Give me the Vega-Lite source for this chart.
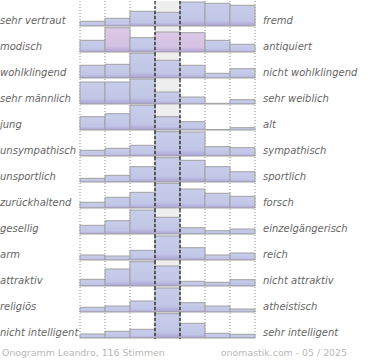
{
  "$schema": "https://vega.github.io/schema/vega-lite/v6.json",
  "padding": 0,
  "autosize": {"type": "pad"},
  "config": {"view": {"stroke": null}, "font": "DejaVu Sans"},
  "datasets": {
    "bars": [
      {"idx": 1, "col": 1, "v": 4.7}, {"idx": 1, "col": 2, "v": 7.7}, {"idx": 1, "col": 3, "v": 14.7}, {"idx": 1, "col": 4, "v": 13.7}, {"idx": 1, "col": 5, "v": 24}, {"idx": 1, "col": 6, "v": 22.7}, {"idx": 1, "col": 7, "v": 20.7},
      {"idx": 2, "col": 1, "v": 11.7}, {"idx": 2, "col": 2, "v": 24.3, "pink": true}, {"idx": 2, "col": 3, "v": 14.3}, {"idx": 2, "col": 4, "v": 20, "pink": true}, {"idx": 2, "col": 5, "v": 19.3, "pink": true}, {"idx": 2, "col": 6, "v": 11.7}, {"idx": 2, "col": 7, "v": 7.7},
      {"idx": 3, "col": 1, "v": 12.7}, {"idx": 3, "col": 2, "v": 13.7}, {"idx": 3, "col": 3, "v": 24.7}, {"idx": 3, "col": 4, "v": 17.7}, {"idx": 3, "col": 5, "v": 12.7}, {"idx": 3, "col": 6, "v": 4.7}, {"idx": 3, "col": 7, "v": 9.3},
      {"idx": 4, "col": 1, "v": 22}, {"idx": 4, "col": 2, "v": 22}, {"idx": 4, "col": 3, "v": 25}, {"idx": 4, "col": 4, "v": 12}, {"idx": 4, "col": 5, "v": 7}, {"idx": 4, "col": 6, "v": 0.7}, {"idx": 4, "col": 7, "v": 4.3},
      {"idx": 5, "col": 1, "v": 13.3}, {"idx": 5, "col": 2, "v": 16.3}, {"idx": 5, "col": 3, "v": 24.7}, {"idx": 5, "col": 4, "v": 13.3}, {"idx": 5, "col": 5, "v": 8.3}, {"idx": 5, "col": 6, "v": 0.5}, {"idx": 5, "col": 7, "v": 2.3},
      {"idx": 6, "col": 1, "v": 5.7}, {"idx": 6, "col": 2, "v": 7.7}, {"idx": 6, "col": 3, "v": 10.7}, {"idx": 6, "col": 4, "v": 24.3}, {"idx": 6, "col": 5, "v": 24}, {"idx": 6, "col": 6, "v": 9.3}, {"idx": 6, "col": 7, "v": 8.3},
      {"idx": 7, "col": 1, "v": 3.7}, {"idx": 7, "col": 2, "v": 6.7}, {"idx": 7, "col": 3, "v": 15.3}, {"idx": 7, "col": 4, "v": 24.3}, {"idx": 7, "col": 5, "v": 21.7}, {"idx": 7, "col": 6, "v": 15.3}, {"idx": 7, "col": 7, "v": 10.3},
      {"idx": 8, "col": 1, "v": 5.7}, {"idx": 8, "col": 2, "v": 10.7}, {"idx": 8, "col": 3, "v": 15.7}, {"idx": 8, "col": 4, "v": 24.7}, {"idx": 8, "col": 5, "v": 19}, {"idx": 8, "col": 6, "v": 14.7}, {"idx": 8, "col": 7, "v": 11.7},
      {"idx": 9, "col": 1, "v": 8.7}, {"idx": 9, "col": 2, "v": 13.3}, {"idx": 9, "col": 3, "v": 24}, {"idx": 9, "col": 4, "v": 16.7}, {"idx": 9, "col": 5, "v": 6.3}, {"idx": 9, "col": 6, "v": 3.3}, {"idx": 9, "col": 7, "v": 5},
      {"idx": 10, "col": 1, "v": 5}, {"idx": 10, "col": 2, "v": 4}, {"idx": 10, "col": 3, "v": 9.7}, {"idx": 10, "col": 4, "v": 24}, {"idx": 10, "col": 5, "v": 12.3}, {"idx": 10, "col": 6, "v": 5}, {"idx": 10, "col": 7, "v": 7},
      {"idx": 11, "col": 1, "v": 6.7}, {"idx": 11, "col": 2, "v": 17}, {"idx": 11, "col": 3, "v": 24.3}, {"idx": 11, "col": 4, "v": 20}, {"idx": 11, "col": 5, "v": 4.7}, {"idx": 11, "col": 6, "v": 3.7}, {"idx": 11, "col": 7, "v": 6.3},
      {"idx": 12, "col": 1, "v": 4.7}, {"idx": 12, "col": 2, "v": 6}, {"idx": 12, "col": 3, "v": 11}, {"idx": 12, "col": 4, "v": 24}, {"idx": 12, "col": 5, "v": 9.3}, {"idx": 12, "col": 6, "v": 6}, {"idx": 12, "col": 7, "v": 3},
      {"idx": 13, "col": 1, "v": 4}, {"idx": 13, "col": 2, "v": 6.7}, {"idx": 13, "col": 3, "v": 8.7}, {"idx": 13, "col": 4, "v": 24.3}, {"idx": 13, "col": 5, "v": 14.7}, {"idx": 13, "col": 6, "v": 4.7}, {"idx": 13, "col": 7, "v": 3.7}
    ],
    "labels": [
      {"idx": 1, "left": "sehr vertraut", "right": "fremd"},
      {"idx": 2, "left": "modisch", "right": "antiquiert"},
      {"idx": 3, "left": "wohlklingend", "right": "nicht wohlklingend"},
      {"idx": 4, "left": "sehr männlich", "right": "sehr weiblich"},
      {"idx": 5, "left": "\u00a0jung", "right": "alt"},
      {"idx": 6, "left": "unsympathisch", "right": "sympathisch"},
      {"idx": 7, "left": "unsportlich", "right": "sportlich"},
      {"idx": 8, "left": "zurückhaltend", "right": "forsch"},
      {"idx": 9, "left": "gesellig", "right": "einzelgängerisch"},
      {"idx": 10, "left": "arm", "right": "reich"},
      {"idx": 11, "left": "attraktiv", "right": "nicht attraktiv"},
      {"idx": 12, "left": "religiös", "right": "atheistisch"},
      {"idx": 13, "left": "nicht intelligent", "right": "sehr intelligent"}
    ]
  },
  "data": {"name": "bars"},
  "transform": [
    {"lookup": "idx", "from": {"data": {"name": "labels"}, "key": "idx", "fields": ["left", "right"]}}
  ],
  "facet": {"row": {"field": "idx", "type": "ordinal", "header": null}},
  "spacing": 0,
  "bounds": "flush",
  "spec": {
    "width": 175,
    "height": 26,
    "encoding": {
      "x": {"field": "col", "type": "ordinal", "axis": null, "scale": {"paddingInner": 0, "paddingOuter": 0}}
    },
    "layer": [
      {
        "transform": [{"filter": "datum.col == 4"}],
        "mark": {"type": "bar", "fill": "#eeeeee"},
        "encoding": {
          "y": {"datum": 25, "type": "quantitative", "axis": null, "scale": {"domain": [-1, 25], "nice": false, "zero": false}},
          "y2": {"datum": 0}
        }
      },
      {
        "mark": {"type": "rule", "stroke": "#888888", "strokeDash": [1, 2], "strokeWidth": 1},
        "encoding": {"x": {"field": "col", "type": "ordinal", "bandPosition": 0}}
      },
      {
        "transform": [{"filter": "datum.col == 7"}],
        "mark": {"type": "rule", "stroke": "#888888", "strokeDash": [1, 2], "strokeWidth": 1},
        "encoding": {"x": {"field": "col", "type": "ordinal", "bandPosition": 1}}
      },
      {
        "mark": {"type": "bar", "stroke": "#a0a0a0", "strokeWidth": 1},
        "encoding": {
          "y": {"field": "v", "type": "quantitative"},
          "y2": {"datum": 0},
          "fill": {
            "condition": {"test": "datum.pink", "value": {"gradient": "linear", "x1": 0, "y1": 0, "x2": 0, "y2": 1, "stops": [{"offset": 0, "color": "#dcc8e6"}, {"offset": 0.75, "color": "#d4c2e2"}, {"offset": 1, "color": "#b3a2d4"}]}},
            "value": {"gradient": "linear", "x1": 0, "y1": 0, "x2": 0, "y2": 1, "stops": [{"offset": 0, "color": "#c7cdea"}, {"offset": 0.75, "color": "#c1c6e6"}, {"offset": 1, "color": "#aba0d3"}]}
          }
        }
      },
      {
        "transform": [{"filter": "datum.col == 4 || datum.col == 5"}],
        "mark": {"type": "rule", "stroke": "#000000", "strokeDash": [3, 2], "strokeWidth": 1},
        "encoding": {"x": {"field": "col", "type": "ordinal", "bandPosition": 0}}
      },
      {
        "mark": {"type": "rule", "stroke": "#000000", "strokeWidth": 2},
        "encoding": {"y": {"datum": 0}}
      },
      {
        "transform": [{"filter": "datum.col == 1"}],
        "mark": {"type": "text", "align": "left", "baseline": "middle", "dx": -80, "fontSize": 10, "fontStyle": "italic", "color": "#666666"},
        "encoding": {
          "x": {"field": "col", "type": "ordinal", "bandPosition": 0},
          "y": {"datum": 5},
          "text": {"field": "left"}
        }
      },
      {
        "transform": [{"filter": "datum.col == 7"}],
        "mark": {"type": "text", "align": "left", "baseline": "middle", "dx": 8, "fontSize": 10, "fontStyle": "italic", "color": "#666666"},
        "encoding": {
          "x": {"field": "col", "type": "ordinal", "bandPosition": 1},
          "y": {"datum": 5},
          "text": {"field": "right"}
        }
      },
      {
        "transform": [{"filter": "datum.idx == 13 && datum.col == 1"}],
        "mark": {"type": "text", "align": "left", "baseline": "middle", "dx": -78, "dy": 15, "fontSize": 9.4, "color": "#b8b8b8"},
        "encoding": {
          "x": {"field": "col", "type": "ordinal", "bandPosition": 0},
          "y": {"datum": 0},
          "text": {"value": "Onogramm Leandro, 116 Stimmen"}
        }
      },
      {
        "transform": [{"filter": "datum.idx == 13 && datum.col == 7"}],
        "mark": {"type": "text", "align": "right", "baseline": "middle", "dx": 92, "dy": 15, "fontSize": 9.4, "color": "#b8b8b8"},
        "encoding": {
          "x": {"field": "col", "type": "ordinal", "bandPosition": 1},
          "y": {"datum": 0},
          "text": {"value": "onomastik.com - 05 / 2025"}
        }
      }
    ]
  }
}
